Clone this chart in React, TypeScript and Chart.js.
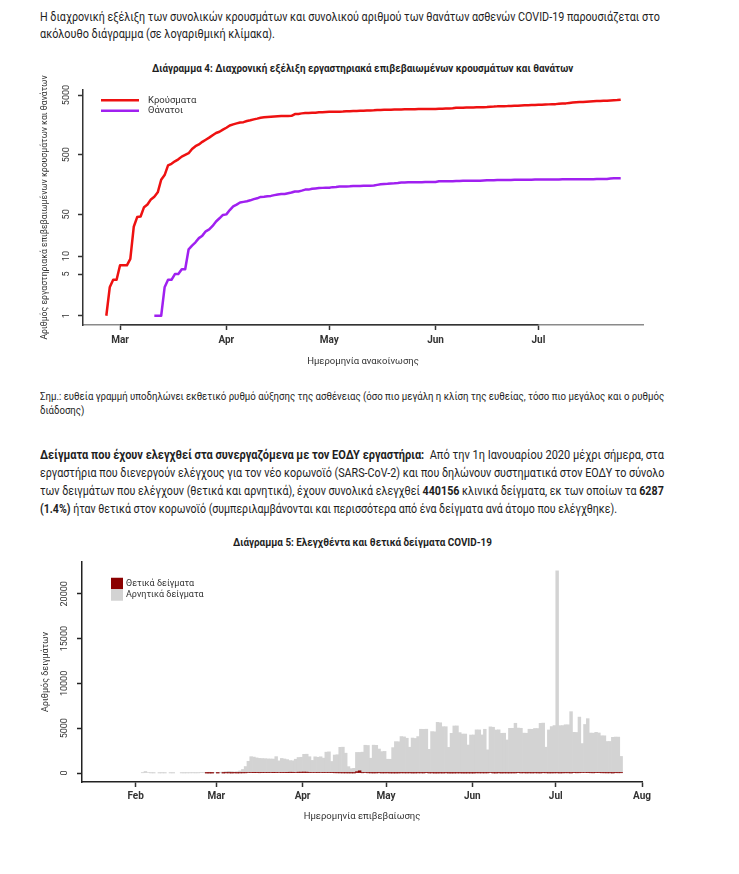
import React, { useEffect, useLayoutEffect, useRef, useState } from "react";
import { Chart, registerables } from "chart.js";

Chart.register(...registerables);

const CHART_FONT = "Roboto, 'Open Sans', 'DejaVu Sans', sans-serif";
const TEXT_FONT = "Roboto, 'Open Sans', 'DejaVu Sans', sans-serif";

// ---------- Διάγραμμα 4 (days counted from 1 March 2020) ----------
const casesStartDay = -4; // 26 Feb
const casesCumulative = [
  1, 3, 4, 4,
  7, 7, 7, 9, 31, 45, 46, 66, 73, 89,
  99, 117, 190, 228, 331, 352, 387, 418, 464, 495,
  530, 624, 695, 743, 821, 892, 966, 1061, 1156, 1212,
  1314, 1415, 1544, 1613, 1673, 1735, 1755, 1832, 1884, 1955,
  2011, 2081, 2114, 2145, 2170, 2192, 2207, 2224, 2235, 2235,
  2245, 2401, 2408, 2463, 2490, 2506, 2517, 2534, 2566, 2576,
  2591, 2612, 2620, 2626, 2632, 2642, 2663, 2678, 2691, 2710,
  2716, 2726, 2744, 2760, 2770, 2810, 2819, 2834, 2836, 2840,
  2850, 2853, 2873, 2876, 2878, 2882, 2892, 2903, 2906, 2909,
  2915, 2917, 2918, 2937, 2952, 2967, 2980, 2997, 3049, 3058,
  3060, 3083, 3088, 3102, 3112, 3121, 3134, 3148, 3189, 3203,
  3227, 3237, 3256, 3266, 3287, 3302, 3310, 3343, 3366, 3376,
  3390, 3409, 3432, 3440, 3458, 3486, 3511, 3519, 3562, 3589,
  3622, 3672, 3732, 3772, 3803, 3826, 3869, 3910, 3939, 3964,
  3983, 4007, 4012, 4048, 4077, 4110, 4166,
];
const deathsStartDay = 10; // 11 Mar
const deathsCumulative = [
  1, 1, 1, 3, 4, 4, 5, 5, 6, 6,
  13, 15, 17, 20, 22, 26, 28, 32, 38, 43,
  49, 50, 59, 68, 73, 79, 81, 83, 86, 90,
  93, 98, 99, 101, 102, 105, 108, 110, 110, 113,
  116, 121, 121, 125, 130, 130, 134, 136, 138, 139,
  140, 140, 143, 144, 146, 146, 147, 148, 150, 150,
  150, 151, 151, 151, 152, 156, 160, 162, 163, 165,
  166, 168, 171, 171, 172, 172, 173, 173, 173, 175,
  175, 175, 175, 179, 179, 180, 180, 180, 182, 182,
  183, 183, 183, 183, 183, 183, 185, 186, 187, 187,
  188, 188, 188, 188, 189, 190, 190, 190, 191, 191,
  191, 192, 192, 192, 192, 192, 192, 192, 192, 193,
  193, 193, 193, 193, 193, 194, 194, 194, 194, 195,
  195, 195, 195, 200, 201, 201, 202,
];
const lineSeriesLabels = ["Κρούσματα", "Θάνατοι"];
const lineTickDays = [0, 31, 61, 92, 122];
const lineTickLabels = ["Mar", "Apr", "May", "Jun", "Jul"];
const logTickValues = [1, 5, 10, 50, 500, 5000];

// ---------- Διάγραμμα 5 (days counted from 1 March 2020) ----------
const samplesStartDay = -29; // 1 Feb
const positiveFeb = [0, 0, 0, 0, 0, 0, 0, 0, 0, 0, 0, 0, 0, 0, 0, 0, 0, 0, 0, 0, 0, 0, 0, 0, 0, 1, 2, 1, 0];
const positiveMar = [3, 0, 2, 20, 15, 5, 20, 8, 15, 20, 25, 60, 45, 80, 40, 35, 40, 45, 40, 50, 80, 70, 60, 70, 70, 80, 90, 85, 60, 95, 100];
const positiveApr = [110, 100, 70, 60, 50, 40, 55, 45, 50, 45, 40, 30, 25, 20, 15, 15, 12, 10, 8, 150, 250, 30, 50, 25, 15, 10, 15, 30, 10, 15];
const positiveMay = [20, 8, 6, 6, 10, 20, 15, 13, 19, 6, 10, 18, 16, 10, 40, 9, 15, 2, 4, 10, 3, 20, 3, 2, 4, 10, 11, 3, 3, 6, 2];
const positiveJun = [1, 19, 15, 15, 13, 17, 52, 9, 2, 23, 5, 14, 10, 9, 13, 14, 41, 14, 24, 10, 19, 10, 21, 15, 8, 33, 23, 10, 14, 19];
const positiveJul = [23, 8, 18, 28, 25, 8, 43, 27, 33, 50, 60, 40, 31, 23, 43, 41, 29, 25, 19, 24, 5, 36, 29, 33];

const negativeFeb = [0, 0, 30, 170, 60, 10, 5, 0, 5, 10, 5, 0, 10, 5, 0, 0, 10, 5, 10, 15, 20, 10, 15, 40, 60, 70, 90, 80, 60];
const negativeMar = [70, 90, 110, 130, 180, 150, 100, 140, 220, 380, 700, 1250, 1780, 1700, 1650, 1600, 1580, 1560, 1540, 1520, 1480, 1760, 1300, 1560, 1500, 1420, 1300, 1280, 1480, 1640, 1660];
const negativeApr = [1980, 2000, 1750, 1350, 1760, 1720, 1760, 1620, 2280, 2320, 1250, 1980, 2020, 2850, 2870, 2200, 700, 480, 520, 2150, 2050, 2300, 3050, 3050, 1640, 3100, 3080, 2650, 2380, 2400];
const negativeMay = [1520, 1530, 2830, 3500, 3480, 4050, 4020, 3870, 2860, 3900, 3850, 4050, 4870, 4870, 4850, 2640, 4610, 4600, 5650, 5600, 5170, 5150, 2860, 4430, 5250, 5250, 4500, 4350, 4350, 3120, 4240];
const negativeJun = [4250, 4800, 4800, 4240, 4870, 2570, 5100, 5100, 4800, 4800, 4430, 4430, 3680, 4980, 4980, 5540, 4980, 4980, 4430, 4430, 4870, 4870, 4950, 4950, 5540, 5540, 2860, 4800, 5170, 5280];
const negativeJul = [22540, 5280, 5280, 5360, 5360, 6840, 4500, 4500, 6210, 3240, 5360, 6030, 4430, 4430, 4500, 4430, 4130, 4130, 3500, 3500, 3980, 3980, 3980, 1820];

const positiveSamples = [...positiveFeb, ...positiveMar, ...positiveApr, ...positiveMay, ...positiveJun, ...positiveJul];
const negativeSamples = [...negativeFeb, ...negativeMar, ...negativeApr, ...negativeMay, ...negativeJun, ...negativeJul];
const barSeriesLabels = ["Θετικά δείγματα", "Αρνητικά δείγματα"];
const barTickDays = [-29, 0, 31, 61, 92, 122, 153];
const barTickLabels = ["Feb", "Mar", "Apr", "May", "Jun", "Jul", "Aug"];
const countTickValues = [0, 5000, 10000, 15000, 20000];

function dayPoints(start: number, values: number[], shift = 0) {
  return values.map((v, i) => ({ x: start + i + shift, y: v }));
}

function nonZeroDayPoints(start: number, values: number[], shift = 0) {
  return dayPoints(start, values, shift).filter((p) => p.y > 0);
}

const rLegendPlugin = {
  id: "rLegend",
  afterDraw(chart: any, _args: any, opts: any) {
    if (!opts || !opts.display) return;
    const { ctx, chartArea } = chart;
    ctx.save();
    ctx.font = `${opts.fontSize}px ${CHART_FONT}`;
    ctx.textBaseline = "middle";
    ctx.textAlign = "left";
    chart.data.datasets.forEach((ds: any, i: number) => {
      const y = chartArea.top + opts.top + i * opts.rowHeight;
      const x0 = chartArea.left + opts.left;
      if (opts.symbol === "line") {
        ctx.strokeStyle = ds.borderColor;
        ctx.lineWidth = ds.borderWidth;
        ctx.beginPath();
        ctx.moveTo(x0, y);
        ctx.lineTo(x0 + opts.symbolWidth, y);
        ctx.stroke();
      } else {
        ctx.fillStyle = ds.backgroundColor;
        ctx.fillRect(x0, y - opts.rowHeight / 2, opts.symbolWidth, opts.rowHeight);
      }
      ctx.fillStyle = opts.color;
      ctx.fillText(ds.label, chartArea.left + opts.textLeft, y);
    });
    ctx.restore();
  },
};

const axisSegmentPlugin = {
  id: "axisSegment",
  afterDraw(chart: any, _args: any, opts: any) {
    if (!opts || !opts.display) return;
    const xs = chart.scales.x;
    const t = xs.ticks;
    if (!t || !t.length) return;
    const w = opts.width;
    const y = Math.round(xs.top - w / 2) + w / 2;
    const ctx = chart.ctx;
    ctx.save();
    ctx.strokeStyle = opts.color;
    ctx.lineWidth = w;
    ctx.beginPath();
    ctx.moveTo(xs.getPixelForValue(t[0].value), y);
    ctx.lineTo(xs.getPixelForValue(t[t.length - 1].value), y);
    ctx.stroke();
    ctx.restore();
  },
};

function xScale(min: number, max: number, days: number[], labels: string[], title: string, tickPad: number, titlePadBottom: number, height: number, borderColor: string) {
  return {
    type: "linear",
    position: "bottom",
    min,
    max,
    offset: false,
    afterBuildTicks: (s: any) => {
      s.ticks = days.map((v) => ({ value: v }));
    },
    afterFit: (s: any) => {
      s.height = height;
    },
    ticks: {
      autoSkip: false,
      maxRotation: 0,
      minRotation: 0,
      padding: tickPad,
      color: "#333",
      font: { family: CHART_FONT, size: 10, weight: "bold" },
      callback: (_v: any, i: number) => labels[i],
    },
    grid: { display: true, drawOnChartArea: false, drawTicks: true, tickLength: 5, tickWidth: 1.5, tickColor: "#333", offset: false },
    border: { display: true, color: borderColor, width: 1.5 },
    title: {
      display: true,
      text: title,
      color: "#333",
      font: { family: CHART_FONT, size: 9.5 },
      padding: { top: 0, bottom: titlePadBottom },
    },
  };
}

function yTicksCommon(pad: number) {
  return {
    autoSkip: false,
    minRotation: 90,
    maxRotation: 90,
    crossAlign: "center",
    padding: pad,
    color: "#333",
    font: { family: CHART_FONT, size: 9 },
    callback: (v: any) => String(v),
  };
}

function CasesChart() {
  const ref = useRef<HTMLCanvasElement>(null);
  useEffect(() => {
    const chart = new Chart(ref.current as HTMLCanvasElement, {
      type: "line",
      data: {
        datasets: [
          {
            label: lineSeriesLabels[0],
            data: dayPoints(casesStartDay, casesCumulative),
            borderColor: "#ee1111",
            borderWidth: 2.5,
            pointRadius: 0,
            tension: 0,
            fill: false,
            borderJoinStyle: "round",
          },
          {
            label: lineSeriesLabels[1],
            data: dayPoints(deathsStartDay, deathsCumulative),
            borderColor: "#a020f0",
            borderWidth: 2.5,
            pointRadius: 0,
            tension: 0,
            fill: false,
            borderJoinStyle: "round",
          },
        ],
      },
      options: {
        responsive: false,
        animation: false,
        devicePixelRatio: 1,
        layout: { padding: { top: 40, left: 0, right: 96, bottom: 0 } },
        scales: {
          x: xScale(-10.8, 152.5, lineTickDays, lineTickLabels, "Ημερομηνία ανακοίνωσης", 4, 7.3, 50, "#8a8a8a"),
          y: {
            type: "logarithmic",
            min: 0.707,
            max: 6070,
            afterBuildTicks: (s: any) => {
              s.ticks = logTickValues.map((v) => ({ value: v }));
            },
            afterFit: (s: any) => {
              s.width = 83;
            },
            ticks: yTicksCommon(1.2),
            grid: { display: true, drawOnChartArea: false, drawTicks: true, tickLength: 5, tickWidth: 1.5, tickColor: "#333" },
            border: { display: true, color: "#333", width: 1.5 },
            title: {
              display: true,
              text: "Αριθμός εργαστηριακά επιβεβαιωμένων κρουσμάτων και θανάτων",
              color: "#333",
              font: { family: CHART_FONT, size: 8.7 },
              padding: { top: 40, bottom: 0 },
            },
          },
        },
        plugins: {
          legend: { display: false },
          tooltip: { enabled: false },
          rLegend: { display: true, symbol: "line", top: 10.3, rowHeight: 10.4, left: 18, symbolWidth: 38, textLeft: 65, fontSize: 9.5, color: "#333" },
          axisSegment: { display: true, color: "#333", width: 1.5 },
        },
      } as any,
      plugins: [rLegendPlugin, axisSegmentPlugin],
    } as any);
    return () => chart.destroy();
  }, []);
  return <canvas ref={ref} width={739} height={325} style={{ position: "absolute", left: 0, top: 50, width: 739, height: 325 }} />;
}

function SamplesChart() {
  const ref = useRef<HTMLCanvasElement>(null);
  useEffect(() => {
    const chart = new Chart(ref.current as HTMLCanvasElement, {
      type: "bar",
      data: {
        datasets: [
          {
            label: barSeriesLabels[0],
            data: nonZeroDayPoints(samplesStartDay, positiveSamples, 0.5),
            backgroundColor: "#8b0000",
            borderWidth: 0,
            barPercentage: 1,
            categoryPercentage: 1,
          },
          {
            label: barSeriesLabels[1],
            data: nonZeroDayPoints(samplesStartDay, negativeSamples, 0.5),
            backgroundColor: "#d3d3d3",
            borderWidth: 0,
            barPercentage: 1,
            categoryPercentage: 1,
          },
        ],
      },
      options: {
        responsive: false,
        animation: false,
        devicePixelRatio: 1,
        layout: { padding: { top: 12, left: 0, right: 97, bottom: 0 } },
        scales: {
          x: { ...xScale(-48.3, 153, barTickDays, barTickLabels, "Ημερομηνία επιβεβαίωσης", 3, 17.3, 58, "#222"), stacked: true },
          y: {
            type: "linear",
            stacked: true,
            min: -1000,
            max: 23550,
            afterBuildTicks: (s: any) => {
              s.ticks = countTickValues.map((v) => ({ value: v }));
            },
            afterFit: (s: any) => {
              s.width = 82;
            },
            ticks: yTicksCommon(0),
            grid: { display: true, drawOnChartArea: false, drawTicks: true, tickLength: 5, tickWidth: 1.5, tickColor: "#222" },
            border: { display: true, color: "#222", width: 1.5 },
            title: {
              display: true,
              text: "Αριθμός δειγμάτων",
              color: "#333",
              font: { family: CHART_FONT, size: 9 },
              padding: { top: 40, bottom: 0 },
            },
          },
        },
        plugins: {
          legend: { display: false },
          tooltip: { enabled: false },
          rLegend: { display: true, symbol: "box", top: 21.5, rowHeight: 11.5, left: 29, symbolWidth: 12, textLeft: 44, fontSize: 9, color: "#333" },
        },
      } as any,
      plugins: [rLegendPlugin],
    } as any);
    return () => chart.destroy();
  }, []);
  return <canvas ref={ref} width={739} height={290} style={{ position: "absolute", left: 0, top: 550, width: 739, height: 290 }} />;
}

function FitText({ left, right, cy, size, bold, children }: any) {
  const ref = useRef<HTMLDivElement>(null);
  const [sx, setSx] = useState(1);
  useLayoutEffect(() => {
    const measure = () => {
      const el = ref.current;
      if (!el) return;
      const w = el.offsetWidth;
      if (w > 0) setSx((right - left) / w);
    };
    measure();
    const f = (document as any).fonts;
    if (f && f.ready) f.ready.then(measure);
  }, [left, right]);
  return (
    <div
      ref={ref}
      style={{
        position: "absolute",
        left,
        top: cy - size * 0.6,
        fontSize: size,
        lineHeight: `${size * 1.2}px`,
        fontWeight: bold ? 700 : 400,
        whiteSpace: "nowrap",
        transform: `scaleX(${sx})`,
        transformOrigin: "0 50%",
        color: "#1e1e1e",
        fontFamily: TEXT_FONT,
      }}
    >
      {children}
    </div>
  );
}

export default function App() {
  return (
    <div style={{ position: "absolute", left: 0, top: 0, width: 739, height: 874, background: "#fff", overflow: "hidden" }}>
      <FitText left={40} right={660} cy={17} size={12}>
        Η διαχρονική εξέλιξη των συνολικών κρουσμάτων και συνολικού αριθμού των θανάτων ασθενών COVID-19 παρουσιάζεται στο
      </FitText>
      <FitText left={40} right={275} cy={34} size={12}>
        ακόλουθο διάγραμμα (σε λογαριθμική κλίμακα).
      </FitText>
      <FitText left={152} right={573} cy={69} size={10.5} bold>
        Διάγραμμα 4: Διαχρονική εξέλιξη εργαστηριακά επιβεβαιωμένων κρουσμάτων και θανάτων
      </FitText>
      <CasesChart />
      <FitText left={40} right={664} cy={397} size={10.5}>
        Σημ.: ευθεία γραμμή υποδηλώνει εκθετικό ρυθμό αύξησης της ασθένειας (όσο πιο μεγάλη η κλίση της ευθείας, τόσο πιο μεγάλος και ο ρυθμός
      </FitText>
      <FitText left={40} right={84} cy={411} size={10.5}>
        διάδοσης)
      </FitText>
      <FitText left={40} right={664} cy={455} size={12}>
        <b>Δείγματα που έχουν ελεγχθεί στα συνεργαζόμενα με τον ΕΟΔΥ εργαστήρια:</b>&nbsp;&nbsp;Από την 1η Ιανουαρίου 2020 μέχρι σήμερα, στα
      </FitText>
      <FitText left={40} right={664} cy={473} size={12}>
        εργαστήρια που διενεργούν ελέγχους για τον νέο κορωνοϊό (SARS-CoV-2) και που δηλώνουν συστηματικά στον ΕΟΔΥ το σύνολο
      </FitText>
      <FitText left={40} right={664} cy={491} size={12}>
        των δειγμάτων που ελέγχουν (θετικά και αρνητικά), έχουν συνολικά ελεγχθεί <b>440156</b> κλινικά δείγματα, εκ των οποίων τα <b>6287</b>
      </FitText>
      <FitText left={40} right={617} cy={509} size={12}>
        <b>(1.4%)</b> ήταν θετικά στον κορωνοϊό (συμπεριλαμβάνονται και περισσότερα από ένα δείγματα ανά άτομο που ελέγχθηκε).
      </FitText>
      <FitText left={233} right={492} cy={543} size={10.5} bold>
        Διάγραμμα 5: Ελεγχθέντα και θετικά δείγματα COVID-19
      </FitText>
      <SamplesChart />
    </div>
  );
}
